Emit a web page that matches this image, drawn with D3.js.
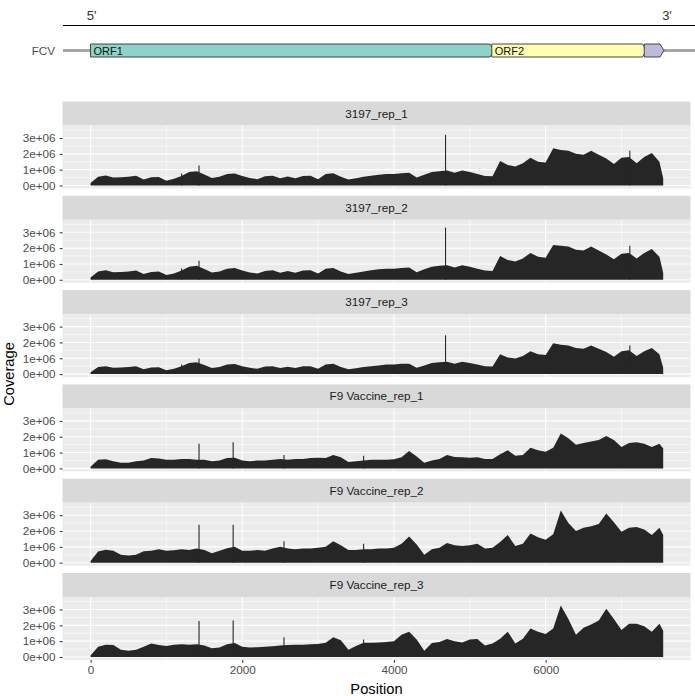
<!DOCTYPE html>
<html>
<head>
<meta charset="utf-8">
<script src="https://cdn.jsdelivr.net/npm/d3@7"></script>
<style>
body { margin: 0; background: #fff; }
text { font-family: "Liberation Sans", Arial, sans-serif; }
</style>
</head>
<body>
<div id="content"></div>
<script>
// coverage track, values in millions of reads, sampled every 100 nt (last point = 3' end)
var positions = d3.range(0, 7600, 100).concat([7550]);

var samples = ["3197_rep_1", "3197_rep_2", "3197_rep_3", "F9 Vaccine_rep_1", "F9 Vaccine_rep_2", "F9 Vaccine_rep_3"];

var cov_3197_rep_1 = [0.15,0.55,0.63,0.5,0.52,0.55,0.61,0.38,0.52,0.54,
    0.3,0.42,0.6,0.85,0.9,0.7,0.48,0.55,0.72,0.76,
    0.6,0.48,0.4,0.58,0.62,0.46,0.57,0.46,0.6,0.62,
    0.4,0.72,0.78,0.55,0.38,0.45,0.55,0.62,0.68,0.72,
    0.72,0.78,0.8,0.5,0.68,0.85,0.9,0.95,0.8,0.95,
    0.85,0.72,0.6,0.58,1.55,1.3,1.2,1.4,1.75,1.5,
    1.45,2.35,2.25,2.2,2.0,1.95,2.2,1.95,1.7,1.35,
    1.75,1.8,1.4,1.8,2.05,1.5,0.45];
var cov_3197_rep_2 = [0.14,0.52,0.6,0.48,0.5,0.52,0.58,0.37,0.5,0.52,
    0.3,0.4,0.58,0.82,0.88,0.68,0.46,0.53,0.7,0.74,
    0.58,0.46,0.4,0.55,0.6,0.45,0.55,0.45,0.58,0.6,
    0.4,0.7,0.75,0.53,0.37,0.44,0.53,0.6,0.66,0.7,
    0.7,0.75,0.78,0.48,0.66,0.82,0.88,0.92,0.78,0.92,
    0.82,0.7,0.58,0.56,1.5,1.25,1.15,1.35,1.7,1.45,
    1.4,2.2,2.15,2.1,1.9,1.85,2.1,1.85,1.6,1.3,
    1.65,1.7,1.35,1.7,1.95,1.45,0.45];
var cov_3197_rep_3 = [0.12,0.45,0.5,0.4,0.42,0.45,0.5,0.3,0.42,0.44,
    0.25,0.34,0.5,0.7,0.75,0.58,0.38,0.45,0.6,0.63,
    0.5,0.4,0.33,0.48,0.5,0.38,0.47,0.38,0.5,0.5,
    0.33,0.6,0.65,0.45,0.3,0.37,0.45,0.5,0.55,0.6,
    0.6,0.65,0.66,0.4,0.55,0.7,0.75,0.78,0.66,0.78,
    0.7,0.6,0.5,0.48,1.25,1.05,0.98,1.15,1.45,1.25,
    1.2,1.95,1.85,1.8,1.65,1.6,1.8,1.6,1.4,1.1,
    1.45,1.5,1.15,1.45,1.65,1.25,0.4];
var cov_f9_rep_1 = [0.1,0.55,0.58,0.45,0.35,0.35,0.45,0.5,0.65,0.62,
    0.55,0.55,0.6,0.6,0.55,0.55,0.45,0.5,0.65,0.68,
    0.5,0.45,0.5,0.5,0.55,0.6,0.55,0.6,0.6,0.65,
    0.68,0.65,0.85,0.7,0.4,0.45,0.5,0.55,0.55,0.55,
    0.58,0.7,1.1,0.75,0.35,0.5,0.6,0.85,0.72,0.7,
    0.68,0.7,0.6,0.6,0.9,1.15,0.8,0.85,1.3,1.15,
    1.05,1.3,2.2,1.9,1.5,1.6,1.7,1.8,2.05,1.8,
    1.35,1.6,1.65,1.55,1.35,1.55,1.25];
var cov_f9_rep_2 = [0.1,0.7,0.82,0.75,0.5,0.45,0.5,0.72,0.75,0.85,
    0.75,0.78,0.85,0.8,0.9,0.8,0.6,0.75,0.92,1.0,
    0.75,0.75,0.8,0.75,0.9,1.0,0.9,0.85,0.9,0.9,
    0.95,1.0,1.35,1.1,0.8,0.8,0.85,0.85,0.9,0.9,
    0.95,1.2,1.65,1.15,0.5,0.85,0.95,1.25,1.1,1.05,
    1.1,1.2,0.9,0.95,1.3,1.75,1.05,1.2,1.85,1.6,
    1.45,1.8,3.3,2.5,2.0,2.2,2.3,2.45,3.1,2.55,
    1.95,2.2,2.25,2.1,1.75,2.2,1.75];
var cov_f9_rep_3 = [0.1,0.65,0.77,0.75,0.45,0.4,0.45,0.65,0.85,0.75,
    0.7,0.78,0.8,0.77,0.8,0.72,0.55,0.6,0.8,0.88,
    0.65,0.6,0.62,0.65,0.68,0.72,0.75,0.77,0.78,0.8,
    0.82,0.9,1.25,1.05,0.45,0.7,0.9,0.9,0.92,0.95,
    1.0,1.4,1.6,1.1,0.4,0.88,0.95,1.13,1.0,0.92,
    1.1,1.13,0.72,0.85,1.15,1.6,0.85,1.15,1.8,1.6,
    1.45,1.8,3.25,2.4,1.4,1.85,2.05,2.3,3.05,2.4,
    1.7,2.1,2.1,1.95,1.6,2.1,1.65];

// single-position pileups (0 = none)
var spikePos = [1200, 1430, 1880, 2550, 3600, 4680, 7110];
var spike_3197_rep_1 = [0.75, 1.26, 0, 0, 0, 3.2, 2.2];
var spike_3197_rep_2 = [0.72, 1.2, 0, 0, 0, 3.3, 2.15];
var spike_3197_rep_3 = [0.6, 0.98, 0, 0, 0, 2.45, 1.8];
var spike_f9_rep_1 = [0, 1.55, 1.65, 0.85, 0.8, 0, 0];
var spike_f9_rep_2 = [0, 2.4, 2.4, 1.35, 1.2, 0, 0];
var spike_f9_rep_3 = [0, 2.27, 2.3, 1.25, 1.1, 0, 0];

var coverage = [cov_3197_rep_1, cov_3197_rep_2, cov_3197_rep_3, cov_f9_rep_1, cov_f9_rep_2, cov_f9_rep_3];
var spikes = [spike_3197_rep_1, spike_3197_rep_2, spike_3197_rep_3, spike_f9_rep_1, spike_f9_rep_2, spike_f9_rep_3];

// genome map
var geneNames = ["ORF1", "ORF2", ""];
var geneStart = [0, 5290, 7300];
var geneEnd = [5320, 7330, 7560];
var geneFill = ["#8DD3C7", "#FFFFB3", "#BEBADA"];

var xTicks = [0, 2000, 4000, 6000];
var xMinor = [1000, 3000, 5000, 7000];
var yTicks = [0, 1, 2, 3];
var yMinor = [0.5, 1.5, 2.5, 3.5];
var yTickLabels = ["0e+00", "1e+06", "2e+06", "3e+06"];

var w = 695,
    h = 696,
    left = 62.5,
    right = 690.5,
    top0 = 101.5,
    step = 94.3,
    stripH = 24,
    plotH = 63;

var svg = d3.select("#content")
    .append("svg")
    .attr("width", w)
    .attr("height", h);

var x = d3.scaleLinear().domain([-370, 7910]).range([left, right]);

// ---- genome map ----
var g0 = svg.append("g");
g0.append("line")
    .attr("x1", 63).attr("x2", w)
    .attr("y1", 25.5).attr("y2", 25.5)
    .attr("stroke", "#000").attr("stroke-width", 1.2);
g0.append("text").attr("x", x(0) + 1).attr("y", 20)
    .attr("text-anchor", "middle").attr("font-size", 13).attr("fill", "#333")
    .text("5'");
g0.append("text").attr("x", x(7600)).attr("y", 20)
    .attr("text-anchor", "middle").attr("font-size", 13).attr("fill", "#333")
    .text("3'");
g0.append("line")
    .attr("x1", 63).attr("x2", w)
    .attr("y1", 50.5).attr("y2", 50.5)
    .attr("stroke", "#A6A6A6").attr("stroke-width", 3);
g0.append("text").attr("x", 55).attr("y", 54.5)
    .attr("text-anchor", "end").attr("font-size", 11.7).attr("fill", "#4D4D4D")
    .text("FCV");

var gy0 = 44, gy1 = 57, head = 4;
geneNames.forEach(function(name, i) {
    var a = x(geneStart[i]), b = x(geneEnd[i]);
    var pts = [[a, gy0], [b - head, gy0], [b, (gy0 + gy1) / 2], [b - head, gy1], [a, gy1]];
    g0.append("path")
        .attr("d", "M" + pts.join("L") + "Z")
        .attr("fill", geneFill[i])
        .attr("stroke", "#333").attr("stroke-width", 0.9);
    if (name) {
        g0.append("text").attr("x", a + 3).attr("y", 54.5)
            .attr("font-size", 11).attr("fill", "#111")
            .text(name);
    }
});

// ---- facets ----
samples.forEach(function(name, i) {
    var top = top0 + i * step,
        pTop = top + stripH,
        pBot = pTop + plotH;
    var y = d3.scaleLinear().domain([-0.19, 3.79]).range([pBot, pTop]);
    var g = svg.append("g");

    g.append("rect").attr("x", left).attr("y", top)
        .attr("width", right - left).attr("height", stripH)
        .attr("fill", "#D9D9D9");
    g.append("text").attr("x", (left + right) / 2).attr("y", top + stripH / 2 + 4)
        .attr("text-anchor", "middle").attr("font-size", 11.7).attr("fill", "#1A1A1A")
        .text(name);

    g.append("rect").attr("x", left).attr("y", pTop)
        .attr("width", right - left).attr("height", plotH)
        .attr("fill", "#EBEBEB");

    g.selectAll(".ymin").data(yMinor).enter().append("line")
        .attr("x1", left).attr("x2", right)
        .attr("y1", function(d) { return y(d); }).attr("y2", function(d) { return y(d); })
        .attr("stroke", "#fff").attr("stroke-width", 0.55);
    g.selectAll(".xmin").data(xMinor).enter().append("line")
        .attr("x1", function(d) { return x(d); }).attr("x2", function(d) { return x(d); })
        .attr("y1", pTop).attr("y2", pBot)
        .attr("stroke", "#fff").attr("stroke-width", 0.55);
    g.selectAll(".ymaj").data(yTicks).enter().append("line")
        .attr("x1", left).attr("x2", right)
        .attr("y1", function(d) { return y(d); }).attr("y2", function(d) { return y(d); })
        .attr("stroke", "#fff").attr("stroke-width", 1.1);
    g.selectAll(".xmaj").data(xTicks).enter().append("line")
        .attr("x1", function(d) { return x(d); }).attr("x2", function(d) { return x(d); })
        .attr("y1", pTop).attr("y2", pBot)
        .attr("stroke", "#fff").attr("stroke-width", 1.1);

    var area = d3.area()
        .x(function(d, j) { return x(positions[j]); })
        .y0(y(0))
        .y1(function(d) { return y(d); });
    g.append("path")
        .datum(coverage[i])
        .attr("d", area)
        .attr("fill", "#262626");

    var sp = spikePos.map(function(p, k) { return {pos: p, v: spikes[i][k]}; })
        .filter(function(d) { return d.v > 0; });
    g.selectAll(".spike").data(sp).enter()
        .append("line")
        .attr("x1", function(d) { return x(d.pos); })
        .attr("x2", function(d) { return x(d.pos); })
        .attr("y1", y(0)).attr("y2", function(d) { return y(d.v); })
        .attr("stroke", "#262626").attr("stroke-width", 1.1);

    // y axis
    var ya = g.append("g").attr("transform", "translate(" + left + ",0)")
        .call(d3.axisLeft(y).tickValues(yTicks).tickSize(2.75)
            .tickFormat(function(d, k) { return yTickLabels[k]; }));
    ya.select(".domain").remove();
    ya.selectAll("line").attr("stroke", "#333").attr("stroke-width", 1.07);
    ya.selectAll("text").attr("font-size", 11.7).attr("fill", "#4D4D4D")
        .attr("font-family", "Liberation Sans, Arial, sans-serif").attr("dx", "-0.1em");

    if (i == samples.length - 1) {
        var xa = g.append("g").attr("transform", "translate(0," + pBot + ")")
            .call(d3.axisBottom(x).tickValues(xTicks).tickSize(2.75).tickFormat(d3.format("d")));
        xa.select(".domain").remove();
        xa.selectAll("line").attr("stroke", "#333").attr("stroke-width", 1.07);
        xa.selectAll("text").attr("font-size", 11.7).attr("fill", "#4D4D4D")
            .attr("font-family", "Liberation Sans, Arial, sans-serif");
    }
});

svg.append("text").attr("x", (left + right) / 2).attr("y", 694)
    .attr("text-anchor", "middle").attr("font-size", 14.7).attr("fill", "#000")
    .text("Position");
svg.append("text")
    .attr("transform", "translate(14," + 374 + ") rotate(-90)")
    .attr("text-anchor", "middle").attr("font-size", 14.7).attr("fill", "#000")
    .text("Coverage");
</script>
</body>
</html>
